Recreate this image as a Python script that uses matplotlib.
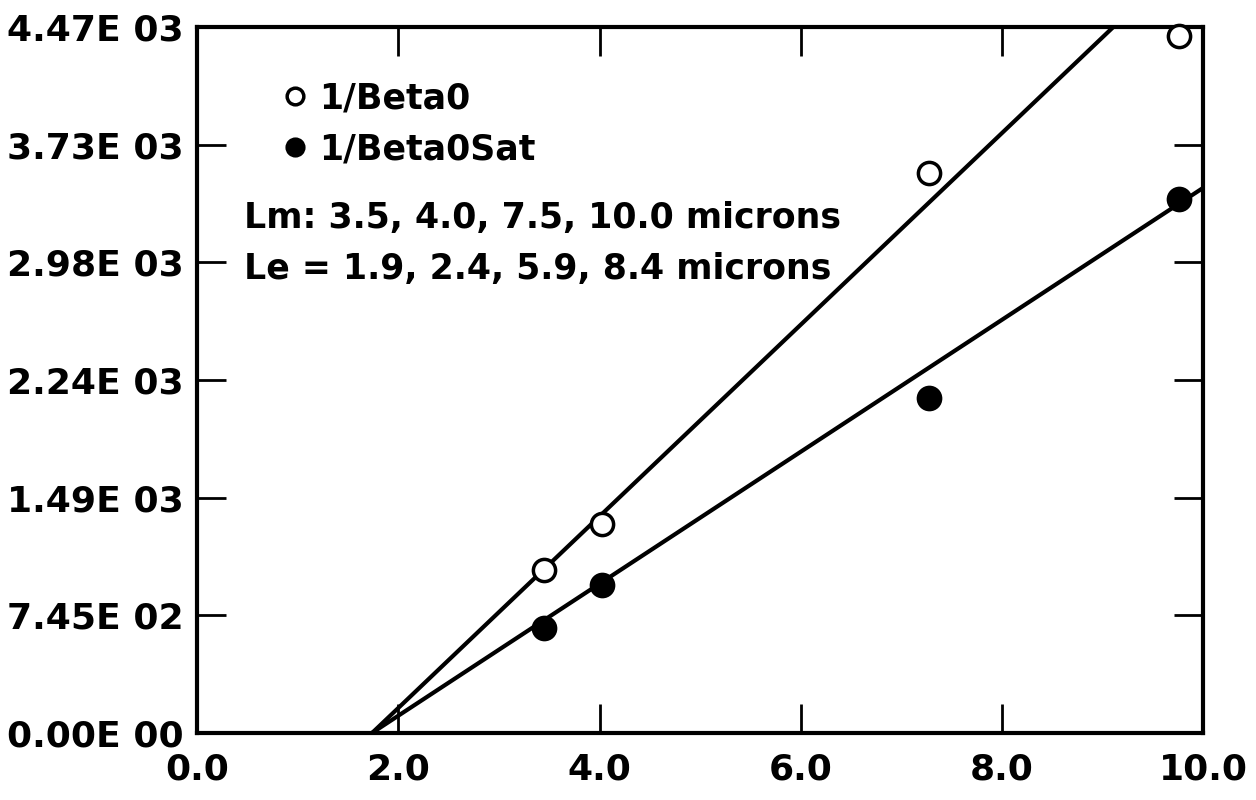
import numpy as np
import matplotlib.pyplot as plt

# data
lm_x = [3.45, 4.02, 7.27, 9.76]
beta0 = [1032, 1323, 3545, 4413]
beta0_sat = [665, 937, 2121, 3381]

# fitted straight lines: x-intercept and slope
fit_x0 = [1.74, 1.74]
fit_slope = [607, 418]

x_ticks = [0.0, 2.0, 4.0, 6.0, 8.0, 10.0]
x_labels = ["0.0", "2.0", "4.0", "6.0", "8.0", "10.0"]
y_ticks = [0, 745, 1490, 2235, 2980, 3725, 4470]
y_labels = ["0.00E 00", "7.45E 02", "1.49E 03", "2.24E 03",
            "2.98E 03", "3.73E 03", "4.47E 03"]

plt.rcParams["font.family"] = ["DejaVu Sans"]
plt.rcParams["font.weight"] = "bold"

fig = plt.figure(figsize=(12.56, 8), dpi=100)
ax = fig.add_axes([0.157, 0.084, 0.801, 0.882])

# fit lines
for x0, k in zip(fit_x0, fit_slope):
    xs = np.array([x0, 10.0])
    ax.plot(xs, k * (xs - x0), color="black", lw=3, solid_capstyle="butt", zorder=2)

ax.plot(lm_x, beta0, "o", ms=16, mfc="white", mec="black", mew=2.5,
        ls="none", zorder=3, clip_on=False)
ax.plot(lm_x, beta0_sat, "o", ms=16, mfc="black", mec="black", mew=2.5,
        ls="none", zorder=3, clip_on=False)

# legend-like key
h1, = ax.plot([], [], "o", ms=12, mfc="white", mec="black", mew=2.5, ls="none")
h2, = ax.plot([], [], "o", ms=12, mfc="black", mec="black", mew=2.5, ls="none")
leg = ax.legend([h1, h2], ["1/Beta0", "1/Beta0Sat"], loc="upper left",
                bbox_to_anchor=(0.071, 0.948), frameon=False, handlelength=0.5,
                handletextpad=0.45, labelspacing=0.5, borderpad=0,
                prop={"size": 25, "weight": "bold"})

ax.text(0.047, 0.73, "Lm: 3.5, 4.0, 7.5, 10.0 microns", transform=ax.transAxes,
        fontsize=25, fontweight="bold", va="center", ha="left")
ax.text(0.047, 0.658, "Le = 1.9, 2.4, 5.9, 8.4 microns", transform=ax.transAxes,
        fontsize=25, fontweight="bold", va="center", ha="left")

ax.set_xlim(0, 10)
ax.set_ylim(0, 4470)
ax.set_xticks(x_ticks)
ax.set_xticklabels(x_labels)
ax.set_yticks(y_ticks)
ax.set_yticklabels(y_labels)
ax.tick_params(direction="in", top=True, right=True, length=21, width=2,
               labelsize=26, pad=10)
ax.tick_params(axis="x", pad=14)
for lab in ax.get_xticklabels() + ax.get_yticklabels():
    lab.set_fontweight("bold")

for s in ax.spines.values():
    s.set_linewidth(3)

fig.savefig("out.png", dpi=100)
